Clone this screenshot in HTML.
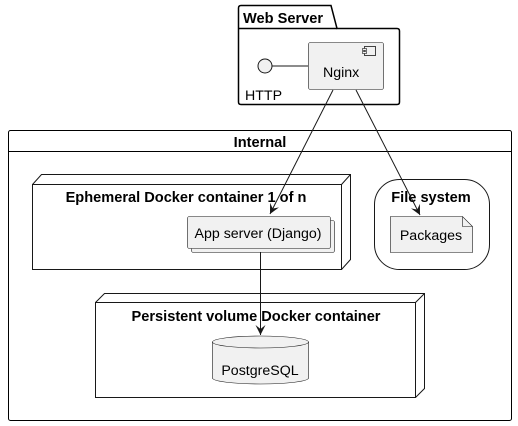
<!DOCTYPE html>
<html><head><meta charset="utf-8"><style>
html,body{margin:0;padding:0;background:#fff;}
svg{display:block;}
text{font-family:"Liberation Sans",sans-serif;}
.b{font-weight:bold;font-size:14.6px;}
.n{font-size:14.2px;}
</style></head><body>
<svg width="518" height="426" viewBox="0 0 518 426" xmlns="http://www.w3.org/2000/svg">
<defs><marker id="a" viewBox="0 0 10 10" refX="10" refY="5" markerWidth="10" markerHeight="10" orient="auto" markerUnits="userSpaceOnUse"><path d="M0,0 L10,5 L0,10 L4,5 Z" fill="#181818"/></marker></defs>
<path d="M238.5,28.5 L238.5,8 Q238.5,5.5 241,5.5 L331,5.5 L337,28.5 L397,28.5 Q399.5,28.5 399.5,31 L399.5,102 Q399.5,104.5 397,104.5 L241,104.5 Q238.5,104.5 238.5,102 Z" fill="none" stroke="#000" stroke-width="1.5"/>
<line x1="238.5" y1="28.5" x2="337" y2="28.5" stroke="#000" stroke-width="1.5"/>
<text x="243" y="23" class="b">Web Server</text>
<circle cx="265" cy="66" r="7" fill="#f1f1f1" stroke="#181818"/>
<line x1="272" y1="66" x2="308" y2="66" stroke="#181818"/>
<text x="245" y="100" class="n">HTTP</text>
<rect x="308.5" y="42.5" width="75" height="47" rx="2" fill="#f1f1f1" stroke="#181818" stroke-width="0.6"/>
<rect x="364.5" y="46.5" width="11" height="9" fill="#f1f1f1" stroke="#181818" stroke-width="0.8"/>
<rect x="362.5" y="48.5" width="4" height="2" fill="#f1f1f1" stroke="#181818" stroke-width="0.6"/>
<rect x="362.5" y="51.5" width="4" height="2" fill="#f1f1f1" stroke="#181818" stroke-width="0.6"/>
<text x="323" y="77" class="n">Nginx</text>
<rect x="8.5" y="130.5" width="503" height="290" rx="2" fill="none" stroke="#000"/>
<line x1="8.5" y1="151.5" x2="511.5" y2="151.5" stroke="#000"/>
<text x="260" y="147" class="b" text-anchor="middle">Internal</text>
<path d="M32.5,184.5 L41.5,174.5 L350.5,174.5 L350.5,259.5 L341.5,269.5 M341.5,184.5 L350.5,174.5" fill="none" stroke="#181818"/>
<rect x="32.5" y="184.5" width="309" height="85" fill="none" stroke="#181818"/>
<text x="186" y="202" class="b" text-anchor="middle">Ephemeral Docker container 1 of n</text>
<rect x="191.5" y="220.5" width="143" height="32" rx="2" fill="#f1f1f1" stroke="#181818" stroke-width="0.6"/>
<rect x="187.5" y="216.5" width="143" height="32" rx="2" fill="#f1f1f1" stroke="#181818" stroke-width="0.6"/>
<text x="258" y="238" class="n" text-anchor="middle">App server (Django)</text>
<rect x="374.5" y="179.5" width="115" height="90" rx="25" fill="none" stroke="#181818"/>
<text x="431" y="202" class="b" text-anchor="middle">File system</text>
<path d="M390.5,216.5 L462.5,216.5 L472.5,226.5 L472.5,252.5 L390.5,252.5 Z" fill="#f1f1f1" stroke="#181818" stroke-width="0.6"/>
<path d="M462.5,216.5 L462.5,226.5 L472.5,226.5" fill="none" stroke="#181818" stroke-width="0.6"/>
<text x="431" y="240" class="n" text-anchor="middle">Packages</text>
<path d="M95.5,302.5 L104.5,293.5 L424.5,293.5 L424.5,388.5 L415.5,397.5 M415.5,302.5 L424.5,293.5" fill="none" stroke="#181818"/>
<rect x="95.5" y="302.5" width="320" height="95" fill="none" stroke="#181818"/>
<text x="256" y="321" class="b" text-anchor="middle">Persistent volume Docker container</text>
<path d="M212.5,342 L212.5,378 A48,6 0 0 0 308.5,378 L308.5,342 A48,6 0 0 0 212.5,342 Z" fill="#f1f1f1" stroke="#181818" stroke-width="0.6"/>
<path d="M212.5,342 A48,6 0 0 0 308.5,342" fill="none" stroke="#181818" stroke-width="0.6"/>
<text x="260" y="375" class="n" text-anchor="middle">PostgreSQL</text>
<line x1="333" y1="90" x2="270" y2="214" stroke="#181818" marker-end="url(#a)"/>
<line x1="356" y1="90" x2="420" y2="215" stroke="#181818" marker-end="url(#a)"/>
<line x1="260.5" y1="252" x2="260.5" y2="335" stroke="#181818" marker-end="url(#a)"/>
</svg>
</body></html>
